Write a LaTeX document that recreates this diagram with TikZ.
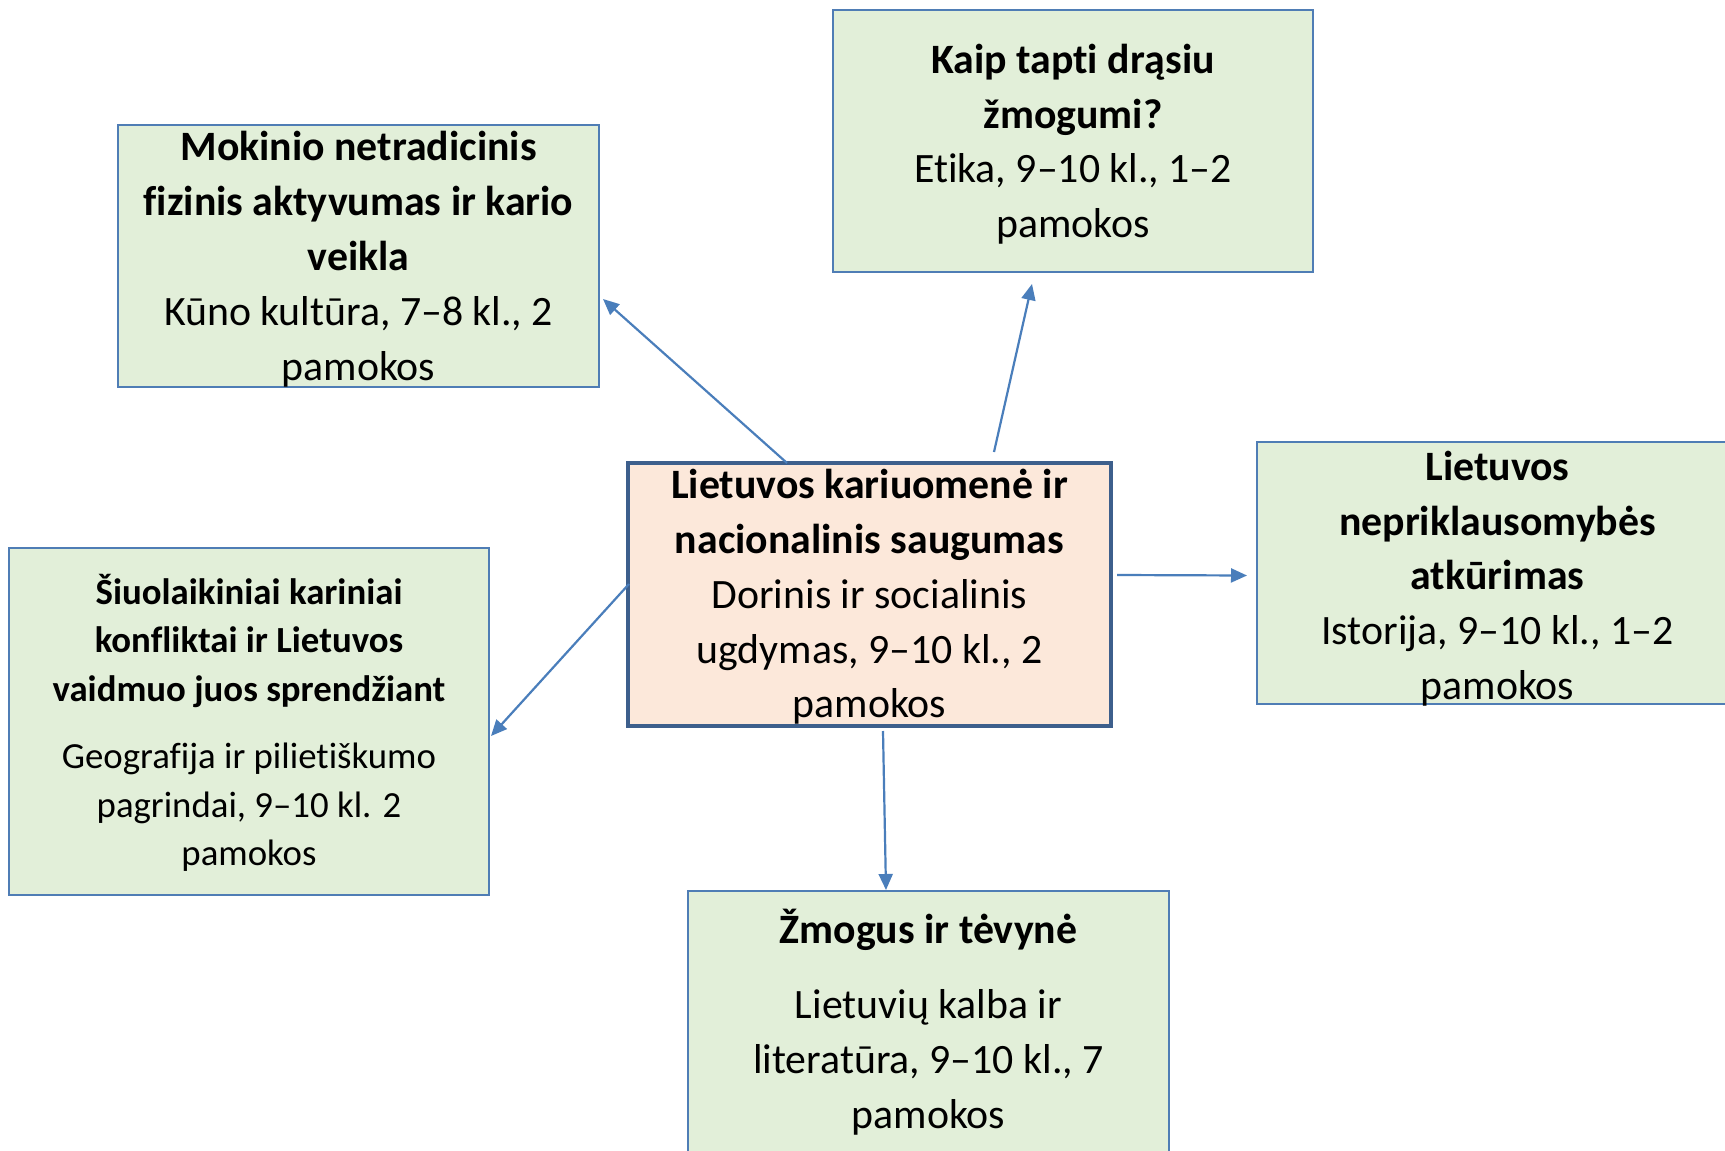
\documentclass[tikz,border=0pt]{standalone}
\usepackage{fontspec}
\setmainfont{Carlito}[Ligatures={NoCommon}]
\usetikzlibrary{arrows.meta}
\definecolor{gfill}{HTML}{E2EFD9}
\definecolor{gborder}{HTML}{4F7DB5}
\definecolor{cfill}{HTML}{FCE8DA}
\definecolor{cborder}{HTML}{3D5F8C}
\definecolor{arrowc}{HTML}{4A7EBB}
\newcommand{\bigtxt}{\fontsize{20.9pt}{27.4pt}\selectfont}
\newcommand{\smalltxt}{\fontsize{18.4pt}{24.2pt}\selectfont}
\tikzset{
  gbox/.style={draw=gborder, fill=gfill, line width=1pt, inner sep=0pt, outer sep=0pt, minimum width=240.5pt, minimum height=131pt},
  cbox/.style={draw=cborder, fill=cfill, line width=2pt, inner sep=0pt, outer sep=0pt, minimum width=241.5pt, minimum height=131.5pt},
  txt/.style={align=center, inner sep=0pt, font=\bigtxt},
  stxt/.style={align=center, inner sep=0pt, font=\smalltxt},
  conn/.style={draw=arrowc, line width=1.1pt, -{Triangle[length=8pt,width=7pt]}}
}
\begin{document}
\begin{tikzpicture}[x=0.5pt,y=-0.5pt]
\useasboundingbox (0,0) rectangle (1725,1151);
\fill[white] (0,0) rectangle (1725,1151);
\begin{scope}
\clip (0,0) rectangle (1725,1151);
% boxes
\node[gbox] (mok) at (358.5,256) {};
\node[gbox, minimum width=240pt] (kaip) at (1073,141) {};
\node[cbox] (cen) at (869.5,594.5) {};
\node[gbox] (rgt) at (1497.5,572.5) {};
\node[gbox, minimum width=240pt, minimum height=173.5pt] (lft) at (249,721.5) {};
\node[gbox] (zm) at (928.5,1022) {};
% texts
\node[txt] (mokt) at ([yshift=-1.6pt]mok.center) {\textbf{Mokinio netradicinis}\\\textbf{fizinis aktyvumas ir kario}\\\textbf{veikla}\\Kūno kultūra, 7–8 kl., 2\\pamokos};
\node[txt] (kaipt) at ([yshift=-1.6pt]kaip.center) {\textbf{Kaip tapti drąsiu}\\\textbf{žmogumi?}\\Etika, 9–10 kl., 1–2\\pamokos};
\node[txt] (cent) at ([yshift=-1.2pt]cen.center) {\textbf{Lietuvos kariuomenė ir}\\\textbf{nacionalinis saugumas}\\Dorinis ir socialinis\\ugdymas, 9–10 kl., 2\\pamokos};
\node[txt] (rgtt) at ([yshift=-3pt]rgt.center) {\textbf{Lietuvos}\\\textbf{nepriklausomybės}\\\textbf{atkūrimas}\\Istorija, 9–10 kl., 1–2\\pamokos};
\node[stxt] (lftt) at ([yshift=-0.7pt]lft.center) {\textbf{Šiuolaikiniai kariniai}\\\textbf{konfliktai ir Lietuvos}\\\textbf{vaidmuo juos sprendžiant}\\[9.5pt]Geografija ir pilietiškumo\\pagrindai, 9–10 kl. 2\\pamokos};
\node[txt] (zmt) at (zm.center) {\textbf{Žmogus ir tėvynė}\\[10.5pt]Lietuvių kalba ir\\literatūra, 9–10 kl., 7\\pamokos};
% connectors
\draw[conn] ([xshift=79.5pt]cen.north west) -- ([xshift=2pt,yshift=-87pt]mok.north east);
\draw[conn] ([xshift=183pt,yshift=5.5pt]cen.north west) -- ([xshift=99.5pt,yshift=-6pt]kaip.south west);
\draw[conn] ([xshift=3pt,yshift=-56pt]cen.north east) -- ([xshift=-5pt,yshift=-67pt]rgt.north west);
\draw[conn] ([xshift=0.5pt,yshift=-60.5pt]cen.north west) -- ([xshift=1pt,yshift=-94pt]lft.north east);
\draw[conn] ([xshift=127.5pt,yshift=-2.5pt]cen.south west) -- ([xshift=99pt,yshift=0.5pt]zm.north west);
\end{scope}
\end{tikzpicture}
\end{document}
